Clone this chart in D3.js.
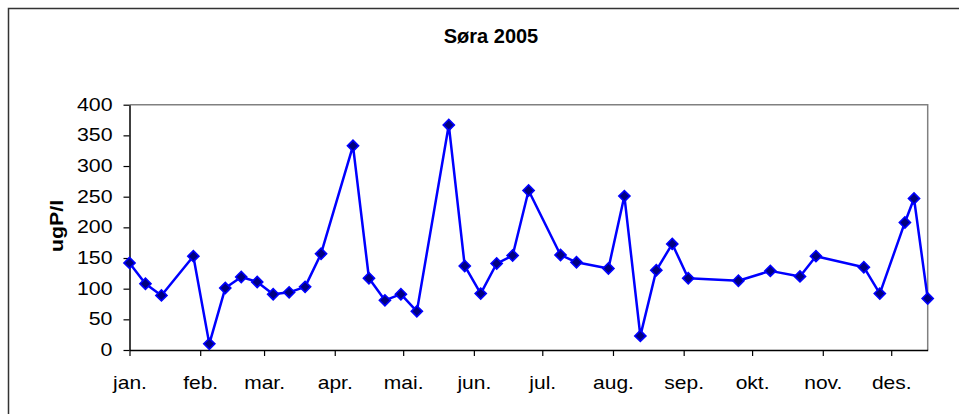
<!DOCTYPE html>
<html>
<head>
<meta charset="utf-8">
<script src="https://cdn.jsdelivr.net/npm/d3@7"></script>
<style>
  html, body { margin: 0; padding: 0; background: #fff; }
  svg { display: block; }
  text { font-family: "Liberation Sans", Arial, sans-serif; fill: #000; }
</style>
</head>
<body>
<svg id="chart" width="959" height="414"></svg>
<script>
// Sampling dates (2005) and total phosphorus, ugP/l
const dates = [
  "2005-01-01","2005-01-08","2005-01-15","2005-01-29","2005-02-05","2005-02-12",
  "2005-02-19","2005-02-26","2005-03-05","2005-03-12","2005-03-19","2005-03-26",
  "2005-04-09","2005-04-16","2005-04-23","2005-04-30","2005-05-07","2005-05-21",
  "2005-05-28","2005-06-04","2005-06-11","2005-06-18","2005-06-25","2005-07-09",
  "2005-07-16","2005-07-30","2005-08-06","2005-08-13","2005-08-20","2005-08-27",
  "2005-09-03","2005-09-25","2005-10-09","2005-10-22","2005-10-29","2005-11-19",
  "2005-11-26","2005-12-07","2005-12-11","2005-12-17"
];
const values = [
  142, 108, 89, 153, 10, 101,
  119, 111, 91, 94, 103, 157,
  333, 117, 81, 91, 63, 367,
  137, 92, 141, 154, 260, 155,
  143, 133, 251, 23, 130, 173,
  117, 113, 129, 120, 153, 135,
  92, 208, 247, 84
];
const monthLabels = ["jan.","feb.","mar.","apr.","mai.","jun.","jul.","aug.","sep.","okt.","nov.","des."];
const yTicks = [0, 50, 100, 150, 200, 250, 300, 350, 400];
const title = "Søra 2005";
const yTitle = "ugP/l";

const parse = d3.timeParse("%Y-%m-%d");
const data = dates.map((d, i) => ({ date: parse(d), value: values[i] }));

const svg = d3.select("#chart");

// outer chart frame
svg.append("rect")
  .attr("x", 8.5).attr("y", 8.5)
  .attr("width", 1000).attr("height", 500)
  .attr("fill", "#fff")
  .attr("stroke", "#333").attr("stroke-width", 1.5);

const plot = { left: 129.5, right: 927.7, top: 104.7, bottom: 350 };

const x = d3.scaleTime()
  .domain([parse("2005-01-01"), parse("2005-12-17")])
  .range([plot.left, plot.right]);
const y = d3.scaleLinear()
  .domain([0, 400])
  .range([plot.bottom, plot.top]);

// plot frame: top and right edges in grey
svg.append("path")
  .attr("d", `M${plot.left},${plot.top}H${plot.right}V${plot.bottom}`)
  .attr("fill", "none")
  .attr("stroke", "#808080").attr("stroke-width", 1.5);

// y axis
const yAxis = svg.append("g")
  .attr("transform", `translate(${plot.left},0)`)
  .call(d3.axisLeft(y).tickValues(yTicks).tickSize(6).tickSizeOuter(0).tickPadding(10));
yAxis.select(".domain").attr("stroke", "#000").attr("stroke-width", 1.5);
yAxis.selectAll(".tick line").attr("stroke", "#000").attr("stroke-width", 1.2);
yAxis.selectAll(".tick text")
  .style("font-size", "17.5px")
  .attr("x", 0).attr("dx", 0)
  .attr("transform", "translate(-17,0) scale(1.22,1)");

// x axis
const xAxis = svg.append("g")
  .attr("transform", `translate(0,${plot.bottom})`)
  .call(d3.axisBottom(x)
    .ticks(d3.timeMonth.every(1))
    .tickFormat(d => monthLabels[d.getMonth()])
    .tickSize(6).tickSizeOuter(0));
xAxis.select(".domain").attr("stroke", "#000").attr("stroke-width", 1.5);
xAxis.selectAll(".tick line").attr("stroke", "#000").attr("stroke-width", 1.2);
xAxis.selectAll(".tick text")
  .style("font-size", "17.5px")
  .attr("y", 0).attr("dy", 0)
  .attr("transform", "translate(0,38.5) scale(1.2,1)");
svg.selectAll(".tick text").attr("fill", "#000");

// series line
svg.append("path")
  .datum(data)
  .attr("fill", "none")
  .attr("stroke", "#0000FF")
  .attr("stroke-width", 2.5)
  .attr("stroke-linejoin", "round")
  .attr("d", d3.line().x(d => x(d.date)).y(d => y(d.value)));

// diamond markers
const diamond = d3.symbol().type(d3.symbolSquare).size(62);
svg.append("g").selectAll("path")
  .data(data)
  .join("path")
  .attr("d", diamond)
  .attr("transform", d => `translate(${x(d.date)},${y(d.value)}) rotate(45)`)
  .attr("fill", "#000080")
  .attr("stroke", "#0000FF")
  .attr("stroke-width", 1.6);

// titles
svg.append("text")
  .attr("x", 491).attr("y", 42.7)
  .attr("text-anchor", "middle")
  .style("font-size", "20px").style("font-weight", "bold")
  .text(title);

svg.append("text")
  .attr("transform", `translate(63,226) rotate(-90) scale(1.22,1)`)
  .attr("text-anchor", "middle")
  .style("font-size", "17.5px").style("font-weight", "bold")
  .text(yTitle);
</script>
</body>
</html>
